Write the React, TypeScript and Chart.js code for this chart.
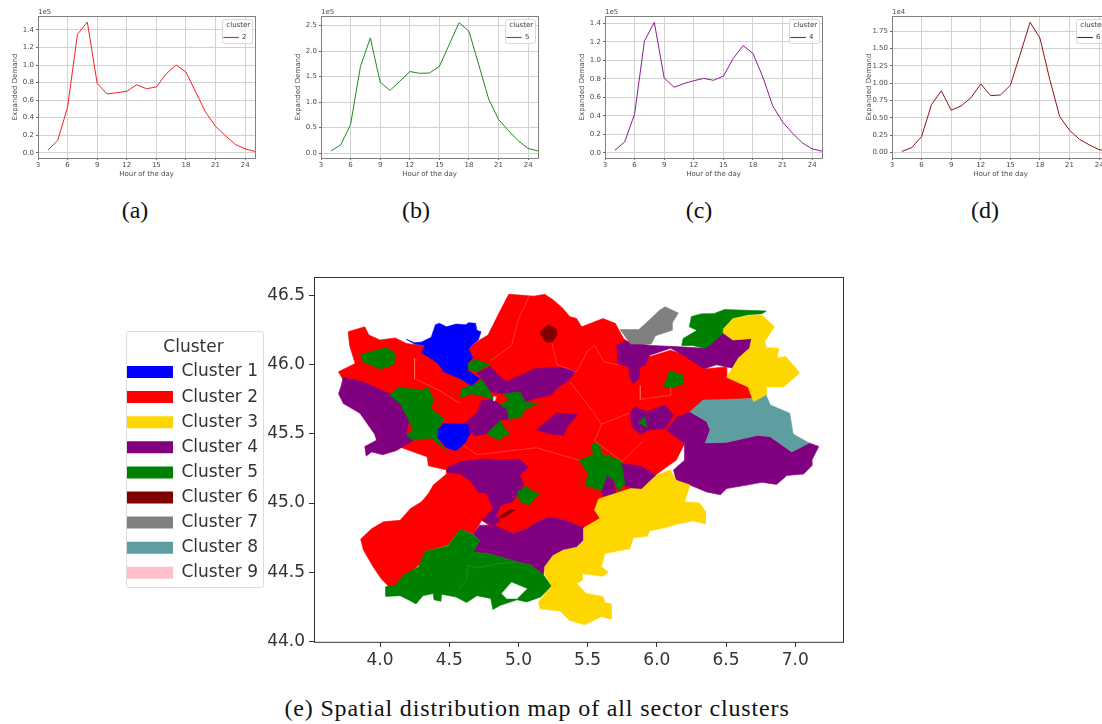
import React, { useEffect, useRef } from "react";
import { Chart, registerables } from "chart.js";

Chart.register(...registerables);

type P = [number, number];

const hours = [4, 5, 6, 7, 8, 9, 10, 11, 12, 13, 14, 15, 16, 17, 18, 19, 20, 21, 22, 23, 24, 25];
const hourTicks = [3, 6, 9, 12, 15, 18, 21, 24];
const cluster2Demand = [0.03, 0.14, 0.52, 1.35, 1.49, 0.79, 0.67, 0.685, 0.7, 0.775, 0.73, 0.75, 0.9, 1.0, 0.92, 0.69, 0.46, 0.3, 0.195, 0.095, 0.045, 0.015];
const cluster5Demand = [0.04, 0.16, 0.56, 1.7, 2.26, 1.39, 1.23, 1.41, 1.6, 1.565, 1.57, 1.7, 2.13, 2.56, 2.39, 1.73, 1.06, 0.66, 0.44, 0.24, 0.09, 0.04];
const cluster4Demand = [0.03, 0.12, 0.42, 1.21, 1.41, 0.81, 0.71, 0.75, 0.78, 0.805, 0.785, 0.83, 1.02, 1.16, 1.075, 0.82, 0.51, 0.335, 0.215, 0.11, 0.045, 0.02];
const cluster6Demand = [0.015, 0.07, 0.23, 0.69, 0.89, 0.61, 0.67, 0.79, 0.99, 0.82, 0.83, 0.97, 1.42, 1.88, 1.65, 1.05, 0.52, 0.32, 0.19, 0.11, 0.04, 0.02];
const ticksA = [0, 0.2, 0.4, 0.6, 0.8, 1.0, 1.2, 1.4];
const ticksB = [0, 0.5, 1.0, 1.5, 2.0, 2.5];
const ticksC = [0, 0.2, 0.4, 0.6, 0.8, 1.0, 1.2, 1.4];
const ticksD = [0, 0.25, 0.5, 0.75, 1.0, 1.25, 1.5, 1.75];

const clusterNames = ["Cluster 1", "Cluster 2", "Cluster 3", "Cluster 4", "Cluster 5", "Cluster 6", "Cluster 7", "Cluster 8", "Cluster 9"];
const clusterColors = ["#0000ff", "#ff0000", "#ffd700", "#800080", "#008000", "#800000", "#808080", "#5f9ea0", "#ffc0cb"];
const lonTicks = [4.0, 4.5, 5.0, 5.5, 6.0, 6.5, 7.0];
const latTicks = [44.0, 44.5, 45.0, 45.5, 46.0, 46.5];

const redBase: P[] = [[3.7, 45.95], [3.82, 46.01], [3.78, 46.14], [3.77, 46.24], [3.89, 46.275], [3.92, 46.215], [4.0, 46.18], [4.11, 46.195], [4.19, 46.155], [4.3, 46.14], [4.64, 46.12], [4.72, 46.18], [4.78, 46.215], [4.87, 46.395], [4.93, 46.51], [5.01, 46.505], [5.11, 46.497], [5.19, 46.51], [5.25, 46.47], [5.32, 46.41], [5.37, 46.35], [5.42, 46.335], [5.457, 46.275], [5.61, 46.335], [5.7, 46.3], [5.76, 46.19], [5.95, 46.06], [6.1, 46.106], [6.23, 46.06], [6.34, 45.97], [6.5, 45.985], [6.505, 45.91], [6.66, 45.84], [6.69, 45.76], [6.5, 45.745], [6.335, 45.745], [6.24, 45.66], [6.2, 45.6], [6.2, 45.43], [6.14, 45.31], [6.0, 45.21], [5.89, 45.1], [5.58, 45.03], [5.55, 44.95], [5.59, 44.89], [5.47, 44.82], [5.445, 44.83], [5.34, 44.876], [5.22, 44.9], [5.14, 44.865], [5.06, 44.815], [4.96, 44.78], [4.82, 44.815], [4.735, 44.875], [4.675, 44.775], [4.58, 44.81], [4.49, 44.695], [4.325, 44.65], [4.29, 44.56], [4.11, 44.405], [4.07, 44.39], [4.01, 44.45], [3.95, 44.54], [3.88, 44.66], [3.86, 44.74], [3.94, 44.815], [4.025, 44.865], [4.145, 44.875], [4.22, 44.96], [4.3, 45.01], [4.35, 45.07], [4.385, 45.13], [4.48, 45.21], [4.48, 45.24], [4.35, 45.27], [4.34, 45.335], [4.13, 45.41], [3.9, 45.6]];
const purpleWest: P[] = [[3.735, 45.91], [3.88, 45.875], [4.07, 45.79], [4.12, 45.77], [4.22, 45.65], [4.19, 45.5], [4.24, 45.455], [4.12, 45.38], [4.02, 45.35], [3.94, 45.37], [3.9, 45.34], [3.89, 45.41], [3.975, 45.455], [3.96, 45.5], [3.855, 45.65], [3.735, 45.72], [3.7, 45.79], [3.72, 45.85]];
const purpleCentralNorth: P[] = [[4.7, 45.94], [4.795, 45.99], [4.87, 45.91], [4.915, 45.88], [5.11, 45.97], [5.275, 45.985], [5.41, 45.96], [5.37, 45.89], [5.29, 45.84], [5.23, 45.78], [5.11, 45.755], [5.05, 45.73], [5.01, 45.805], [4.89, 45.79], [4.795, 45.805]];
const purpleLyonSouth: P[] = [[4.735, 45.745], [4.82, 45.745], [4.87, 45.71], [4.915, 45.685], [4.93, 45.61], [4.87, 45.6], [4.77, 45.5], [4.675, 45.485], [4.61, 45.575], [4.7, 45.65]];
const purpleEastOfLyon: P[] = [[5.13, 45.53], [5.275, 45.65], [5.43, 45.64], [5.35, 45.55], [5.325, 45.49], [5.23, 45.5]];
const purpleNorthEast: P[] = [[5.71, 46.14], [5.76, 46.17], [5.96, 46.14], [6.17, 46.13], [6.34, 46.12], [6.48, 46.23], [6.55, 46.18], [6.685, 46.19], [6.67, 46.12], [6.59, 46.05], [6.55, 45.975], [6.43, 46.0], [6.34, 45.97], [6.25, 46.03], [6.17, 46.08], [6.1, 46.12], [5.95, 46.07], [5.915, 46.0], [5.88, 45.985], [5.87, 45.9], [5.83, 45.865], [5.8, 45.925], [5.8, 45.985], [5.72, 46.01]];
const purpleEastBig: P[] = [[6.07, 45.53], [6.145, 45.62], [6.24, 45.66], [6.36, 45.59], [6.385, 45.53], [6.35, 45.435], [6.505, 45.44], [6.73, 45.49], [6.82, 45.48], [6.975, 45.37], [7.1, 45.435], [7.17, 45.41], [7.12, 45.31], [7.12, 45.27], [7.06, 45.21], [6.94, 45.2], [6.865, 45.135], [6.76, 45.15], [6.65, 45.13], [6.505, 45.105], [6.46, 45.06], [6.36, 45.08], [6.24, 45.13], [6.14, 45.165], [6.12, 45.24], [6.2, 45.31], [6.2, 45.43]];
const purpleMidEast: P[] = [[5.807, 45.65], [5.84, 45.695], [5.93, 45.66], [6.06, 45.71], [6.12, 45.635], [6.06, 45.54], [5.95, 45.53], [5.88, 45.5], [5.82, 45.55]];
const purpleSliver: P[] = [[5.64, 45.2], [5.69, 45.165], [5.7, 45.07], [5.61, 45.05], [5.6, 45.09]];
const purpleSouthEast: P[] = [[5.745, 45.285], [5.88, 45.27], [5.995, 45.2], [5.89, 45.105], [5.82, 45.105], [5.77, 45.12]];
const purpleCenterSouth: P[] = [[4.49, 45.26], [4.58, 45.3], [4.77, 45.32], [4.84, 45.31], [5.01, 45.315], [5.07, 45.26], [5.01, 45.2], [5.04, 45.13], [4.99, 45.07], [4.96, 45.01], [4.87, 44.985], [4.81, 44.98], [4.77, 45.07], [4.71, 45.08], [4.65, 45.165], [4.58, 45.21], [4.48, 45.225]];
const purpleNotch: P[] = [[4.82, 44.995], [4.87, 44.985], [4.84, 44.91], [4.87, 44.875], [4.82, 44.84], [4.735, 44.875], [4.81, 44.95]];
const purpleSouth: P[] = [[4.72, 44.84], [4.82, 44.84], [4.96, 44.78], [5.06, 44.815], [5.14, 44.865], [5.22, 44.9], [5.34, 44.875], [5.445, 44.83], [5.47, 44.83], [5.47, 44.73], [5.42, 44.68], [5.325, 44.645], [5.25, 44.62], [5.19, 44.54], [5.18, 44.48], [5.095, 44.55], [4.99, 44.575], [4.87, 44.61], [4.78, 44.635], [4.675, 44.645], [4.72, 44.73], [4.675, 44.775]];

const greenNorthWest: P[] = [[3.86, 46.075], [3.99, 46.11], [4.05, 46.125], [4.11, 46.08], [4.1, 46.0], [4.0, 45.97], [3.93, 46.0], [3.88, 46.02]];
const greenWest: P[] = [[4.07, 45.78], [4.13, 45.835], [4.3, 45.82], [4.35, 45.835], [4.385, 45.755], [4.37, 45.685], [4.46, 45.61], [4.42, 45.53], [4.42, 45.455], [4.48, 45.38], [4.37, 45.47], [4.24, 45.455], [4.19, 45.49], [4.24, 45.53], [4.19, 45.635], [4.145, 45.72]];
const greenNorthCentral: P[] = [[4.62, 46.0], [4.69, 46.04], [4.795, 46.0], [4.7, 45.95], [4.65, 45.96]];
const greenLyonNorth: P[] = [[4.59, 45.83], [4.7, 45.865], [4.735, 45.9], [4.795, 45.805], [4.82, 45.75], [4.72, 45.78], [4.66, 45.79], [4.58, 45.76]];
const greenLyonEast: P[] = [[4.89, 45.79], [5.01, 45.805], [5.05, 45.73], [5.14, 45.72], [5.04, 45.67], [5.02, 45.62], [4.93, 45.61], [4.915, 45.685], [4.87, 45.71], [4.93, 45.745]];
const greenLyonSouth: P[] = [[4.77, 45.5], [4.87, 45.6], [4.9, 45.54], [4.94, 45.5], [4.89, 45.48], [4.855, 45.455], [4.81, 45.48]];
const greenNorthEast: P[] = [[6.18, 46.14], [6.19, 46.19], [6.29, 46.25], [6.235, 46.275], [6.25, 46.35], [6.325, 46.37], [6.41, 46.37], [6.49, 46.4], [6.79, 46.39], [6.76, 46.37], [6.65, 46.36], [6.55, 46.335], [6.48, 46.26], [6.48, 46.23], [6.385, 46.14], [6.34, 46.12], [6.26, 46.14]];
const greenEastSpot: P[] = [[6.05, 45.84], [6.09, 45.955], [6.19, 45.925], [6.19, 45.865], [6.12, 45.835]];
const greenTiny: P[] = [[5.87, 45.58], [5.91, 45.625], [5.93, 45.55]];
const greenSouthCentral: P[] = [[5.53, 45.43], [5.58, 45.435], [5.61, 45.35], [5.66, 45.34], [5.75, 45.3], [5.745, 45.285], [5.77, 45.13], [5.72, 45.09], [5.69, 45.165], [5.64, 45.2], [5.6, 45.09], [5.48, 45.13], [5.505, 45.21], [5.44, 45.31], [5.54, 45.35]];
const greenValence: P[] = [[4.99, 45.08], [5.06, 45.12], [5.11, 45.08], [5.155, 45.07], [5.11, 45.03], [5.08, 44.985], [5.01, 45.01]];
const greenSouth: P[] = [[4.04, 44.395], [4.11, 44.405], [4.17, 44.48], [4.28, 44.54], [4.325, 44.65], [4.49, 44.69], [4.58, 44.81], [4.675, 44.77], [4.72, 44.73], [4.675, 44.645], [4.78, 44.635], [4.87, 44.61], [4.99, 44.575], [5.095, 44.55], [5.18, 44.48], [5.24, 44.4], [5.16, 44.32], [5.06, 44.285], [4.99, 44.3], [4.87, 44.26], [4.815, 44.23], [4.8, 44.31], [4.7, 44.33], [4.625, 44.28], [4.55, 44.32], [4.445, 44.34], [4.44, 44.29], [4.39, 44.3], [4.385, 44.345], [4.31, 44.33], [4.26, 44.27], [4.205, 44.3], [4.145, 44.33], [4.04, 44.325]];

const blueNorth: P[] = [[4.19, 46.185], [4.25, 46.16], [4.3, 46.165], [4.37, 46.2], [4.4, 46.29], [4.43, 46.3], [4.48, 46.275], [4.55, 46.295], [4.62, 46.29], [4.64, 46.305], [4.69, 46.3], [4.7, 46.25], [4.73, 46.24], [4.71, 46.18], [4.64, 46.12], [4.67, 46.05], [4.63, 46.01], [4.63, 45.96], [4.72, 45.9], [4.66, 45.85], [4.58, 45.9], [4.46, 45.95], [4.42, 46.01], [4.36, 46.05], [4.3, 46.09], [4.325, 46.14], [4.25, 46.15]];
const blueSouth: P[] = [[4.46, 45.575], [4.63, 45.57], [4.65, 45.5], [4.61, 45.43], [4.55, 45.38], [4.48, 45.4], [4.42, 45.47], [4.42, 45.53]];

const yellowNorthEast: P[] = [[6.48, 46.26], [6.55, 46.335], [6.7, 46.36], [6.76, 46.36], [6.85, 46.275], [6.78, 46.17], [6.79, 46.125], [6.88, 46.12], [6.87, 46.05], [6.93, 46.06], [7.01, 45.97], [7.03, 45.94], [6.915, 45.84], [6.79, 45.84], [6.79, 45.78], [6.7, 45.73], [6.66, 45.84], [6.505, 45.91], [6.59, 46.05], [6.67, 46.12], [6.685, 46.19], [6.55, 46.18], [6.48, 46.23]];
const yellowSouth: P[] = [[6.02, 45.21], [6.095, 45.24], [6.14, 45.165], [6.24, 45.13], [6.2, 45.01], [6.31, 45.0], [6.35, 44.94], [6.35, 44.85], [6.265, 44.87], [6.155, 44.85], [6.05, 44.82], [5.95, 44.8], [5.93, 44.76], [5.83, 44.75], [5.805, 44.67], [5.7, 44.65], [5.625, 44.635], [5.6, 44.54], [5.65, 44.5], [5.61, 44.47], [5.46, 44.49], [5.46, 44.44], [5.42, 44.42], [5.49, 44.345], [5.61, 44.325], [5.625, 44.28], [5.67, 44.27], [5.67, 44.16], [5.6, 44.18], [5.48, 44.12], [5.37, 44.15], [5.3, 44.22], [5.155, 44.235], [5.145, 44.285], [5.24, 44.4], [5.19, 44.48], [5.19, 44.54], [5.25, 44.62], [5.325, 44.66], [5.42, 44.68], [5.47, 44.73], [5.47, 44.82], [5.59, 44.89], [5.55, 44.95], [5.58, 45.03], [5.81, 45.105], [5.89, 45.1], [5.995, 45.2]];

const greyNorth: P[] = [[5.735, 46.255], [5.87, 46.255], [5.93, 46.31], [6.02, 46.395], [6.06, 46.42], [6.155, 46.375], [6.11, 46.3], [6.11, 46.25], [5.99, 46.21], [5.96, 46.15], [5.81, 46.15]];
const tealEast: P[] = [[6.24, 45.66], [6.335, 45.745], [6.505, 45.75], [6.685, 45.755], [6.7, 45.73], [6.79, 45.78], [6.82, 45.71], [6.96, 45.65], [6.985, 45.5], [7.1, 45.435], [6.975, 45.37], [6.82, 45.48], [6.73, 45.49], [6.505, 45.44], [6.35, 45.435], [6.385, 45.53], [6.36, 45.59]];
const darkRedNorth: P[] = [[5.155, 46.24], [5.215, 46.29], [5.275, 46.26], [5.28, 46.215], [5.24, 46.16], [5.19, 46.17]];
const darkRedSouth: P[] = [[4.86, 44.9], [4.93, 44.95], [4.975, 44.95], [4.915, 44.91], [4.88, 44.89]];
const whiteHole: P[] = [[4.88, 44.345], [4.95, 44.425], [5.06, 44.38], [4.99, 44.31], [4.915, 44.31]];
const whiteLyon: P[] = [[4.82, 45.77], [4.84, 45.77], [4.83, 45.74], [4.82, 45.74]];
const redLyon: P[] = [[4.84, 45.78], [4.89, 45.76], [4.86, 45.74]];

const sectorLineA: P[] = [[4.8, 46.03], [4.95, 46.14], [5.0, 46.33], [5.08, 46.5]];
const sectorLineB: P[] = [[5.24, 46.16], [5.28, 46.0], [5.42, 45.95]];
const sectorLineC: P[] = [[4.25, 46.05], [4.25, 45.9], [4.42, 45.82], [4.58, 45.72]];
const sectorLineD: P[] = [[5.42, 45.95], [5.5, 46.1], [5.55, 46.14], [5.62, 46.02], [5.72, 46.0]];
const sectorLineE: P[] = [[5.37, 45.88], [5.54, 45.66], [5.6, 45.57], [5.8, 45.65]];
const sectorLineF: P[] = [[5.6, 45.57], [5.55, 45.45], [5.75, 45.3], [5.9, 45.45]];
const sectorLineG: P[] = [[5.88, 45.85], [5.88, 45.75], [6.1, 45.78], [6.1, 45.84]];
const sectorLineH: P[] = [[4.6, 45.42], [4.7, 45.35], [5.13, 45.4], [5.3, 45.35], [5.44, 45.31]];
const sectorLineI: P[] = [[4.64, 44.55], [4.62, 44.44], [4.57, 44.38]];
const sectorLineJ: P[] = [[4.64, 44.55], [4.7, 44.53], [4.85, 44.56], [4.99, 44.575]];

const mapLayers: [P[], string][] = [
  [redBase, clusterColors[1]],
  [purpleWest, clusterColors[3]],
  [purpleCentralNorth, clusterColors[3]],
  [purpleLyonSouth, clusterColors[3]],
  [purpleEastOfLyon, clusterColors[3]],
  [purpleNorthEast, clusterColors[3]],
  [purpleEastBig, clusterColors[3]],
  [purpleMidEast, clusterColors[3]],
  [purpleSliver, clusterColors[3]],
  [purpleSouthEast, clusterColors[3]],
  [purpleCenterSouth, clusterColors[3]],
  [purpleNotch, clusterColors[3]],
  [purpleSouth, clusterColors[3]],
  [greenNorthWest, clusterColors[4]],
  [greenWest, clusterColors[4]],
  [greenNorthCentral, clusterColors[4]],
  [greenLyonNorth, clusterColors[4]],
  [greenLyonEast, clusterColors[4]],
  [greenLyonSouth, clusterColors[4]],
  [greenNorthEast, clusterColors[4]],
  [greenEastSpot, clusterColors[4]],
  [greenTiny, clusterColors[4]],
  [greenSouthCentral, clusterColors[4]],
  [greenValence, clusterColors[4]],
  [greenSouth, clusterColors[4]],
  [blueNorth, clusterColors[0]],
  [blueSouth, clusterColors[0]],
  [yellowNorthEast, clusterColors[2]],
  [yellowSouth, clusterColors[2]],
  [greyNorth, clusterColors[6]],
  [tealEast, clusterColors[7]],
  [darkRedNorth, clusterColors[5]],
  [darkRedSouth, clusterColors[5]],
  [whiteHole, "#ffffff"],
  [whiteLyon, "#e8e8e0"],
  [redLyon, clusterColors[1]],
];
const sectorLines: P[][] = [sectorLineA, sectorLineB, sectorLineC, sectorLineD, sectorLineE, sectorLineF, sectorLineG, sectorLineH];
const greenSectorLines: P[][] = [sectorLineI, sectorLineJ];

const legendPlacer = {
  id: "legendPlacer",
  beforeDraw(chart: any, _a: any, opts: any) {
    const l = chart.legend;
    if (!l || !opts.at) return;
    l.left = opts.at[0];
    l.top = opts.at[1];
    l.right = l.left + Math.max(l.width, opts.box[2] + 4);
    l.bottom = l.top + l.height + 4;
  },
  beforeDatasetsDraw(chart: any, _a: any, opts: any) {
    if (!opts.box) return;
    const ctx = chart.ctx;
    const [x, y, w, h] = opts.box;
    ctx.save();
    ctx.fillStyle = `rgba(255,255,255,${opts.alpha})`;
    ctx.strokeStyle = opts.edge;
    ctx.lineWidth = 1;
    ctx.beginPath();
    ctx.roundRect(x, y, w, h, 2);
    ctx.fill();
    ctx.stroke();
    ctx.restore();
    chart.legend.draw();
  },
};
const frame = {
  id: "frame",
  afterDraw(chart: any, _a: any, opts: any) {
    const { left, top, right, bottom } = chart.chartArea;
    const ctx = chart.ctx;
    ctx.save();
    ctx.strokeStyle = opts.color;
    ctx.lineWidth = opts.width;
    ctx.strokeRect(Math.round(left) + 0.5, Math.round(top) + 0.5, right - left, bottom - top);
    if (opts.offset) {
      ctx.fillStyle = opts.textColor;
      ctx.font = "7px 'DejaVu Sans'";
      ctx.textAlign = "left";
      ctx.textBaseline = "alphabetic";
      ctx.fillText(opts.offset, left, top - 2);
    }
    ctx.restore();
  },
};

const textGrey = "#4a4a4a";
const gridGrey = "#d2d2d2";

type Mini = { left: number; name: string; demand: number[]; ticks: number[]; digits: number; yMin: number; yMax: number; color: string; offset: string; margin: number };
const minis: Mini[] = [
  { left: 0, name: "2", demand: cluster2Demand, ticks: ticksA, digits: 1, yMin: -0.06, yMax: 1.559, color: "#ff1e1e", offset: "1e5", margin: 38 },
  { left: 283, name: "5", demand: cluster5Demand, ticks: ticksB, digits: 1, yMin: -0.098, yMax: 2.69, color: "#1c8c1c", offset: "1e5", margin: 38 },
  { left: 567, name: "4", demand: cluster4Demand, ticks: ticksC, digits: 1, yMin: -0.054, yMax: 1.479, color: "#8c1a96", offset: "1e5", margin: 38 },
  { left: 854, name: "6", demand: cluster6Demand, ticks: ticksD, digits: 2, yMin: -0.08, yMax: 1.97, color: "#8c1414", offset: "1e4", margin: 38 },
];

function MiniChart({ m }: { m: Mini }) {
  const ref = useRef<HTMLCanvasElement>(null);
  useEffect(() => {
    const font = { family: "'DejaVu Sans'", size: 7 };
    const chart = new Chart(ref.current as HTMLCanvasElement, {
      type: "line",
      data: {
        datasets: [{ label: m.name, data: hours.map((h, i) => ({ x: h, y: m.demand[i] })), borderColor: m.color, backgroundColor: m.color, borderWidth: 1, pointRadius: 0, tension: 0 }],
      },
      plugins: [legendPlacer, frame],
      options: {
        animation: false,
        responsive: false,
        layout: { padding: { top: 16, right: 25, left: 0, bottom: 0 } },
        scales: {
          x: {
            type: "linear", min: 3, max: 25,
            afterBuildTicks: (s: any) => { s.ticks = hourTicks.map((value) => ({ value })); },
            afterFit: (s: any) => { s.height = 32; },
            grid: { color: gridGrey, lineWidth: 1, tickLength: 2, tickColor: "#666" },
            border: { display: false },
            ticks: { color: textGrey, font, padding: 1, maxRotation: 0, autoSkip: false, callback: (v: any) => String(v) },
            title: { display: true, text: "Hour of the day", color: textGrey, font, padding: { top: 0, bottom: 12 } },
          },
          y: {
            type: "linear", min: m.yMin, max: m.yMax,
            afterBuildTicks: (s: any) => { s.ticks = m.ticks.map((value) => ({ value })); },
            afterFit: (s: any) => { s.width = m.margin; },
            grid: { color: gridGrey, lineWidth: 1, tickLength: 2, tickColor: "#666" },
            border: { display: false },
            ticks: { color: textGrey, font, padding: 2, autoSkip: false, callback: (v: any) => Number(v).toFixed(m.digits) },
            title: { display: true, text: "Expanded Demand", color: textGrey, font, padding: { top: 11, bottom: 0 } },
          },
        },
        plugins: {
          tooltip: { enabled: false },
          legend: {
            position: "chartArea", align: "start",
            title: { display: true, text: "cluster", color: textGrey, font, padding: { top: 3, bottom: 0 } },
            labels: {
              boxWidth: 15, boxHeight: 0.1, padding: 3.6, color: textGrey, font,
              generateLabels: () => [{ text: m.name, fillStyle: m.color, strokeStyle: m.color, lineWidth: 1, hidden: false, datasetIndex: 0 }],
            },
          },
          legendPlacer: { at: [m.margin + 182, 19], box: [m.margin + 184.5, 19.5, 30, 24], alpha: 0.8, edge: "#d8d8d8" },
          frame: { color: "#808080", width: 1, offset: m.offset, textColor: textGrey },
        } as any,
      },
    } as any);
    return () => chart.destroy();
  }, [m]);
  return <canvas ref={ref} width={280} height={190} style={{ position: "absolute", left: m.left, top: 0, display: "block" }} />;
}

function MapChart() {
  const ref = useRef<HTMLCanvasElement>(null);
  useEffect(() => {
    const font = { family: "'DejaVu Sans'", size: 17 };
    const polygons = mapLayers.map(([shape, color], i) => ({
      label: "sector " + i,
      data: [...shape, shape[0]].map(([x, y]) => ({ x, y })),
      showLine: true, fill: "shape", backgroundColor: color,
      borderColor: color, borderWidth: 0.6, pointRadius: 0, tension: 0,
      order: 1000 - i,
    }));
    const lines = [...sectorLines.map((l) => [l, "rgba(255,150,130,0.75)"] as [P[], string]), ...greenSectorLines.map((l) => [l, "rgba(60,160,60,0.9)"] as [P[], string])].map(([l, color], i) => ({
      label: "sector line " + i,
      data: l.map(([x, y]) => ({ x, y })),
      showLine: true, fill: false, borderColor: color, borderWidth: 0.5, pointRadius: 0, tension: 0, order: 2,
    }));
    const chart = new Chart(ref.current as HTMLCanvasElement, {
      type: "scatter",
      data: { datasets: [...polygons, ...lines] },
      plugins: [legendPlacer, frame],
      options: {
        animation: false,
        responsive: false,
        layout: { padding: { top: 14, right: 7, left: 0, bottom: 0 } },
        scales: {
          x: {
            type: "linear", min: 3.523, max: 7.345,
            afterBuildTicks: (s: any) => { s.ticks = lonTicks.map((value) => ({ value })); },
            afterFit: (s: any) => { s.height = 48; },
            grid: { drawOnChartArea: false, tickLength: 5, tickColor: "#333" },
            border: { display: false },
            ticks: { color: "#333", font, padding: 3, maxRotation: 0, autoSkip: false, callback: (v: any) => Number(v).toFixed(1) },
          },
          y: {
            type: "linear", min: 43.995, max: 46.634,
            afterBuildTicks: (s: any) => { s.ticks = latTicks.map((value) => ({ value })); },
            afterFit: (s: any) => { s.width = 194; },
            grid: { drawOnChartArea: false, tickLength: 5, tickColor: "#333" },
            border: { display: false },
            ticks: { color: "#333", font, padding: 4, autoSkip: false, callback: (v: any) => Number(v).toFixed(1) },
          },
        },
        plugins: {
          tooltip: { enabled: false },
          legend: {
            position: "chartArea", align: "start",
            title: { display: true, text: "Cluster", color: "#333", font, padding: { top: 10, bottom: -4 } },
            labels: {
              boxWidth: 46, boxHeight: 12, padding: 8.1, color: "#333", font,
              generateLabels: () => clusterNames.map((text, i) => ({ text, fillStyle: clusterColors[i], strokeStyle: clusterColors[i], lineWidth: 0, hidden: false, datasetIndex: 0 })),
            },
          },
          legendPlacer: { at: [-1.1, 66], box: [6.5, 68.5, 137, 256], alpha: 1, edge: "#dcdcdc" },
          frame: { color: "#333", width: 1 },
        } as any,
      },
    } as any);
    return () => chart.destroy();
  }, []);
  return <canvas ref={ref} width={730} height={427} style={{ position: "absolute", left: 120, top: 263, display: "block" }} />;
}

const captions: [string, number, number, number][] = [
  ["(a)", 135, 210, 0],
  ["(b)", 416, 210, 0],
  ["(c)", 699, 210, 0],
  ["(d)", 985, 210, 0],
  ["(e) Spatial distribution map of all sector clusters", 537, 708, 0.85],
];

export default function App() {
  return (
    <div style={{ position: "absolute", left: 0, top: 0, width: 1102, height: 724, overflow: "hidden", background: "#fff" }}>
      {minis.map((m) => <MiniChart key={m.name} m={m} />)}
      <MapChart />
      {captions.map(([text, x, y, spacing]) => (
        <div key={text} style={{ position: "absolute", left: x - 300, width: 600, top: y - 14, height: 28, lineHeight: "28px", textAlign: "center", fontFamily: "'Liberation Serif', serif", fontSize: 24, letterSpacing: spacing, color: "#111" }}>{text}</div>
      ))}
    </div>
  );
}
